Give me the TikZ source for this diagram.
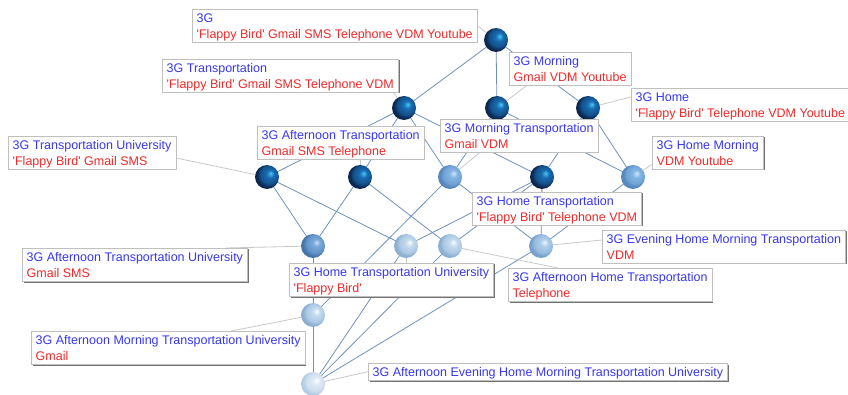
\documentclass[tikz,border=0pt]{standalone}
\usepackage{fontspec}
\newfontfamily\lblfam{Liberation Sans}
\usetikzlibrary{calc,shadows}
\definecolor{tblue}{RGB}{55,55,245}
\definecolor{tred}{RGB}{245,40,40}
\definecolor{edgec}{RGB}{110,145,185}
\definecolor{connc}{RGB}{200,200,200}
% ball colours: highlight, body, edge
\definecolor{dkH}{RGB}{70,200,245}\definecolor{dkB}{RGB}{25,108,178}\definecolor{dkE}{RGB}{12,40,80}
\definecolor{ltH}{RGB}{205,230,250}\definecolor{ltB}{RGB}{130,180,228}\definecolor{ltE}{RGB}{85,135,190}
\definecolor{mdH}{RGB}{195,220,242}\definecolor{mdB}{RGB}{120,168,218}\definecolor{mdE}{RGB}{70,115,170}
\definecolor{l2H}{RGB}{235,245,255}\definecolor{l2B}{RGB}{175,205,235}\definecolor{l2E}{RGB}{120,160,205}
\definecolor{vlH}{RGB}{248,252,255}\definecolor{vlB}{RGB}{195,218,238}\definecolor{vlE}{RGB}{140,175,210}
\definecolor{wlH}{RGB}{255,255,255}\definecolor{wlB}{RGB}{222,234,245}\definecolor{wlE}{RGB}{180,205,228}
\newcommand\mkball[4]{\pgfdeclareradialshading{#1}{\pgfpoint{8bp}{8bp}}{color(0bp)=(#2); color(8bp)=(#3); color(19bp)=(#3!60!#4); color(25bp)=(#4); color(50bp)=(#4)}}
\mkball{bdark}{dkH}{dkB}{dkE}
\mkball{blight}{ltH}{ltB}{ltE}
\mkball{bmed}{mdH}{mdB}{mdE}
\mkball{blight2}{l2H}{l2B}{l2E}
\mkball{bvlight}{vlH}{vlB}{vlE}
\mkball{bwhite}{wlH}{wlB}{wlE}
\pgfdeclarelayer{edges}
\pgfdeclarelayer{balls}
\pgfsetlayers{edges,balls,main}
\newcommand\mystrut{\rule[-3.5pt]{0pt}{16pt}}
\newcommand\lt[2]{\textcolor{tblue}{\mystrut #1}\\\textcolor{tred}{\mystrut #2}}
\begin{document}
\begin{tikzpicture}[x=1pt,y=-1pt,
  ball/.style={circle, minimum size=24pt, inner sep=0pt, shading=#1},
  edge/.style={draw=edgec, line width=0.8pt},
  conn/.style={draw=connc, line width=0.8pt},
  lbl/.style={draw=gray!50, fill=white, align=left, anchor=north west,
    inner xsep=4.5pt, inner ysep=0.5pt, font=\lblfam\fontsize{12.5}{16}\selectfont,
    general shadow={shadow xshift=1.3pt, shadow yshift=-1.3pt, fill=black!55}}]
\useasboundingbox (0,0) rectangle (848,395);
% balls
\begin{pgfonlayer}{balls}
\node[ball=bdark] (T) at (496,40) {};
\node[ball=bdark] (A) at (404,108) {};
\node[ball=bdark] (B) at (497,108) {};
\node[ball=bdark] (C) at (588,108) {};
\node[ball=bdark] (D) at (267,177) {};
\node[ball=bdark] (E) at (360,177) {};
\node[ball=blight] (F) at (450,177) {};
\node[ball=bdark] (G) at (542,177) {};
\node[ball=blight] (H) at (633,177) {};
\node[ball=bmed] (I) at (313,246) {};
\node[ball=bvlight] (J) at (406,246) {};
\node[ball=bvlight] (K) at (450,246) {};
\node[ball=blight2] (L) at (541,246) {};
\node[ball=bvlight] (M) at (313,315) {};
\node[ball=bwhite] (N) at (313,384) {};
\end{pgfonlayer}
% labels
\node[lbl] (l1) at (192,9) {\lt{3G}{'Flappy Bird' Gmail SMS Telephone VDM Youtube}};
\node[lbl] (l2) at (162,59) {\lt{3G Transportation}{'Flappy Bird' Gmail SMS Telephone VDM}};
\node[lbl] (l3) at (509,52) {\lt{3G Morning}{Gmail VDM Youtube}};
\node[lbl] (l4) at (631,88) {\lt{3G Home}{'Flappy Bird' Telephone VDM Youtube}};
\node[lbl] (l5) at (8,136) {\lt{3G Transportation University}{'Flappy Bird' Gmail SMS}};
\node[lbl] (l6) at (257,126) {\lt{3G Afternoon Transportation}{Gmail SMS Telephone}};
\node[lbl] (l7) at (440,119) {\lt{3G Morning Transportation}{Gmail VDM}};
\node[lbl] (l8) at (652,136) {\lt{3G Home Morning}{VDM Youtube}};
\node[lbl] (l9) at (472,192) {\lt{3G Home Transportation}{'Flappy Bird' Telephone VDM}};
\node[lbl] (l10) at (22,248) {\lt{3G Afternoon Transportation University}{Gmail SMS}};
\node[lbl] (l11) at (289,263) {\lt{3G Home Transportation University}{'Flappy Bird'}};
\node[lbl] (l12) at (602,230) {\lt{3G Evening Home Morning Transportation}{VDM}};
\node[lbl] (l13) at (508,268) {\lt{3G Afternoon Home Transportation}{Telephone}};
\node[lbl] (l14) at (31,331) {\lt{3G Afternoon Morning Transportation University}{Gmail}};
\node[lbl] (l15) at (368,363) {\textcolor{tblue}{\mystrut 3G Afternoon Evening Home Morning Transportation University}};
% edges and connectors
\begin{pgfonlayer}{edges}
\foreach \a/\b in {T/A,T/B,T/C,A/D,A/E,A/F,A/G,B/F,B/H,C/G,C/H,D/I,D/J,E/I,E/K,F/L,F/M,G/J,G/K,G/L,H/L,I/M,J/N,K/N,L/N,M/N}
  \draw[edge] (\a.center) -- (\b.center);
\draw[conn] (T.center) -- (l1.east);
\draw[conn] (A.center) -- ($(l2.south east)+(-5,0)$);
\draw[conn] (B.center) -- ($(l3.south west)+(18,0)$);
\draw[conn] (C.center) -- ($(l4.north west)+(0,9)$);
\draw[conn] (D.center) -- ($(l5.north east)+(0,22)$);
\draw[conn] (E.center) -- (E.center |- l6.south);
\draw[conn] (F.center) -- ($(l7.south west)+(40,0)$);
\draw[conn] (G.center) -- (G.center |- l9.north);
\draw[conn] (H.center) -- ($(l8.south west)+(0,-5)$);
\draw[conn] (I.center) -- ($(l10.north east)+(-22,0)$);
\draw[conn] (J.center) -- (J.center |- l11.north);
\draw[conn] (K.center) -- ($(l13.north west)+(50,0)$);
\draw[conn] (L.center) -- ($(l12.north west)+(0,10)$);
\draw[conn] (M.center) -- ($(l14.north west)+(200,0)$);
\draw[conn] (N.center) -- (l15.west);
\end{pgfonlayer}
\end{tikzpicture}
\end{document}
